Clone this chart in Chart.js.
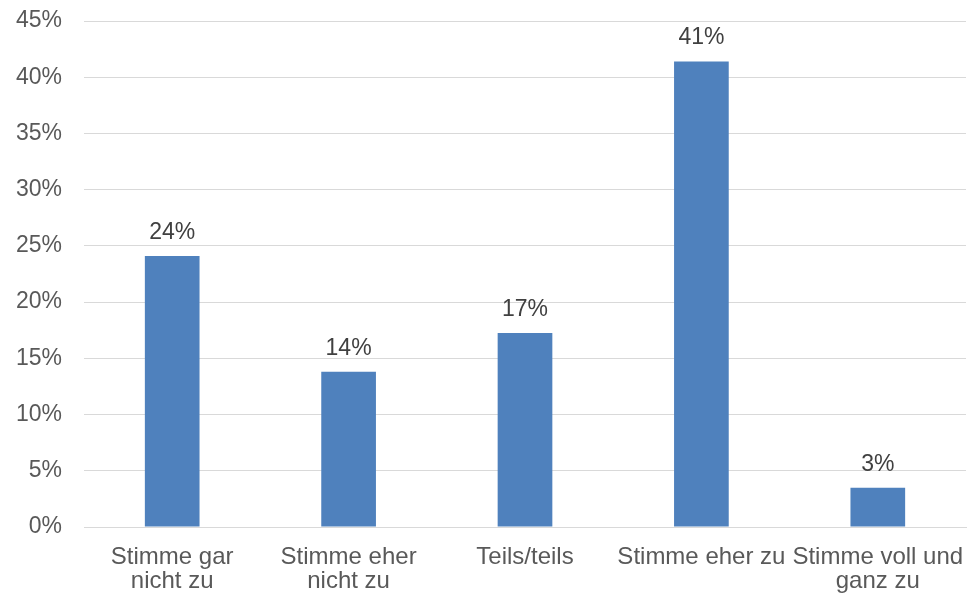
<!DOCTYPE html>
<html>
<head>
<meta charset="utf-8">
<script src="https://cdn.jsdelivr.net/npm/chart.js@4/dist/chart.umd.min.js"></script>
<style>
  html, body { margin: 0; padding: 0; background: #fff; }
  #wrap { width: 967px; height: 595px; }
</style>
</head>
<body>
<div id="wrap"><canvas id="chart"></canvas></div>
<script>
const categories = [
    ['Stimme gar', 'nicht zu'],
    ['Stimme eher', 'nicht zu'],
    'Teils/teils',
    'Stimme eher zu',
    ['Stimme voll und', 'ganz zu']
];
const shares = [24.1, 13.8, 17.25, 41.4, 3.5];
const barLabels = ['24%', '14%', '17%', '41%', '3%'];

const textColor = '#595959';
const fontFamily = '"Liberation Sans", Arial, sans-serif';

// draws the value labels above each bar
const valueLabels = {
    id: 'valueLabels',
    afterDatasetsDraw(chart) {
        const ctx = chart.ctx;
        const meta = chart.getDatasetMeta(0);
        ctx.save();
        ctx.font = '23px ' + fontFamily;
        ctx.fillStyle = '#404040';
        ctx.textAlign = 'center';
        ctx.textBaseline = 'alphabetic';
        meta.data.forEach((bar, i) => {
            ctx.fillText(barLabels[i], bar.x, bar.y - 17);
        });
        ctx.restore();
    }
};

const ctx = document.getElementById('chart').getContext('2d');
new Chart(ctx, {
    type: 'bar',
    data: {
        labels: categories,
        datasets: [{
            data: shares,
            backgroundColor: '#4f81bd',
            categoryPercentage: 1,
            barPercentage: 0.31
        }]
    },
    options: {
        responsive: true,
        maintainAspectRatio: false,
        animation: false,
        layout: { padding: { top: 21, right: 1, left: 0, bottom: 0 } },
        plugins: {
            legend: { display: false },
            tooltip: { enabled: false }
        },
        scales: {
            x: {
                grid: { display: false },
                border: { color: '#d9d9d9', width: 1 },
                afterFit(scale) {
                    scale.height = 68;
                    scale.paddingLeft = 0;
                    scale.paddingRight = 0;
                },
                ticks: {
                    color: textColor,
                    font: { family: fontFamily, size: 24, lineHeight: 1.0 },
                    padding: 10,
                    maxRotation: 0,
                    autoSkip: false
                }
            },
            y: {
                min: 0,
                max: 45,
                grid: { color: '#d9d9d9', drawTicks: false },
                border: { display: false },
                afterFit(scale) {
                    scale.width = 84;
                    scale.paddingTop = 0;
                    scale.paddingBottom = 0;
                },
                ticks: {
                    stepSize: 5,
                    color: textColor,
                    padding: 22,
                    font: { family: fontFamily, size: 23 },
                    callback: v => v + '%'
                }
            }
        }
    },
    plugins: [valueLabels]
});
</script>
</body>
</html>
